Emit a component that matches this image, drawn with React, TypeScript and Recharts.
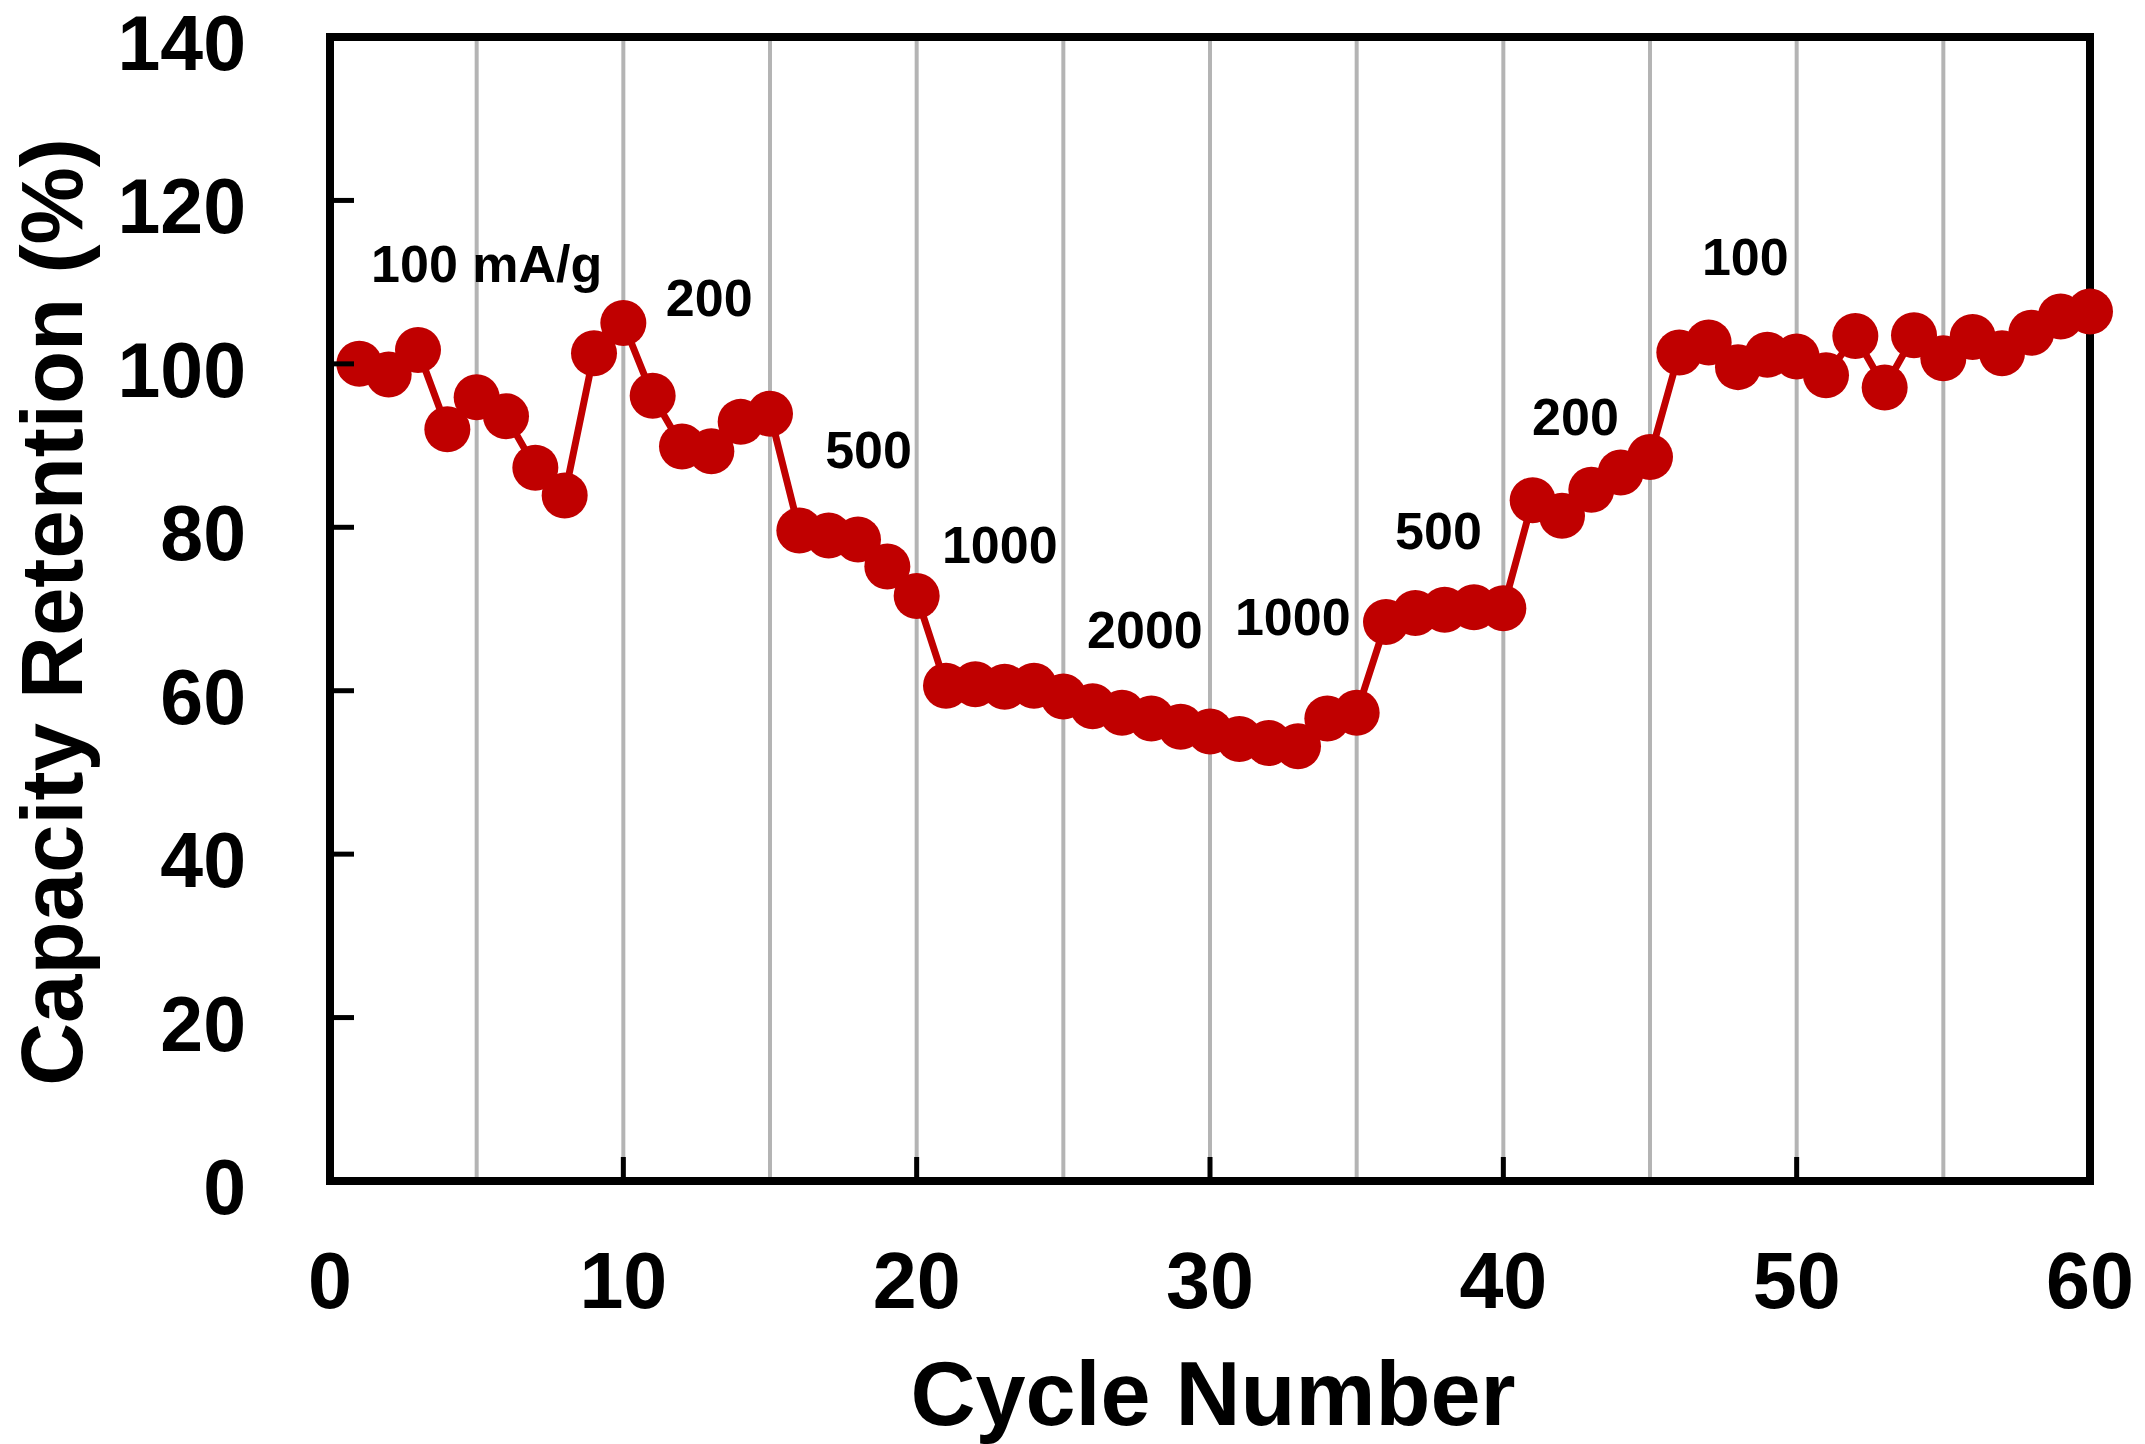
import { LineChart, Line, XAxis, YAxis, CartesianGrid, ReferenceDot } from "recharts"

// cycle number 1..60
const cycles = Array.from({ length: 60 }, (_, i) => i + 1)

// capacity retention (%)
const retention = [
	100.0, 98.7, 101.7, 92.0, 95.9, 93.6, 87.3, 83.9, 101.3, 105.0,
	96.1, 89.9, 89.3, 92.9, 93.9, 79.6, 79.0, 78.5, 75.2, 71.6,
	60.6, 60.8, 60.5, 60.6, 59.3, 58.1, 57.3, 56.6, 55.6, 55.0,
	54.1, 53.6, 53.2, 56.6, 57.3, 68.4, 69.5, 69.9, 70.2, 70.1,
	83.3, 81.4, 84.6, 86.7, 88.6, 101.4, 102.6, 99.6, 101.1, 100.9,
	98.6, 103.4, 97.1, 103.5, 100.7, 103.3, 101.3, 103.8, 105.8, 106.4,
]

const xTicks = [0, 5, 10, 15, 20, 25, 30, 35, 40, 45, 50, 55, 60]
const yTicks = [0, 20, 40, 60, 80, 100, 120, 140]

// current density labels, anchored in data units (cycle, retention)
const rateLabels = [
	{ text: "100 mA/g", cycle: 1.4, value: 110.0 },
	{ text: "200", cycle: 11.45, value: 105.9 },
	{ text: "500", cycle: 16.88, value: 87.3 },
	{ text: "1000", cycle: 20.86, value: 75.6 },
	{ text: "2000", cycle: 25.81, value: 65.2 },
	{ text: "1000", cycle: 30.85, value: 66.8 },
	{ text: "500", cycle: 36.31, value: 77.3 },
	{ text: "200", cycle: 40.98, value: 91.3 },
	{ text: "100", cycle: 46.77, value: 110.9 },
]

const data = cycles.map((c, i) => ({ cycle: c, retention: retention[i] }))

const FONT = "'Liberation Sans', Arial, sans-serif"
const RED = "#C00000"
const frame = { stroke: "#000", strokeWidth: 8, strokeLinecap: "square" }

function XTick({ x, y, payload }) {
	const v = payload.value
	if (v % 10 !== 0) return null
	return (
		<g>
			{v > 0 && v < 60 && <line x1={x} y1={y} x2={x} y2={y - 24} stroke="#000" strokeWidth={5} />}
			<text x={x} y={y + 127} textAnchor="middle" fontFamily={FONT} fontWeight="bold" fontSize={79} fill="#000">
				{v}
			</text>
		</g>
	)
}

function YTick({ x, y, payload }) {
	const v = payload.value
	return (
		<g>
			{v > 0 && v < 140 && <line x1={x} y1={y} x2={x + 24} y2={y} stroke="#000" strokeWidth={5} />}
			<text x={x - 84} y={y + 33} textAnchor="end" fontFamily={FONT} fontWeight="bold" fontSize={77} fill="#000">
				{v}
			</text>
		</g>
	)
}

export default function App() {
	return (
		<div>
			<style>{`body{margin:0}`}</style>
			<LineChart width={2145} height={1444} data={data} margin={{ top: 36, right: 54, left: 329, bottom: 262 }}>
				<CartesianGrid horizontal={false} stroke="#b4b4b4" strokeWidth={4} />
				<XAxis
					dataKey="cycle"
					type="number"
					domain={[0, 60]}
					ticks={xTicks}
					interval={0}
					height={1}
					tickSize={0}
					tickMargin={0}
					tickLine={false}
					tick={<XTick />}
					axisLine={frame}
				/>
				<XAxis
					xAxisId="top"
					orientation="top"
					type="number"
					domain={[0, 60]}
					height={1}
					tick={false}
					tickLine={false}
					axisLine={frame}
				/>
				<YAxis
					type="number"
					domain={[0, 140]}
					ticks={yTicks}
					interval={0}
					width={1}
					tickSize={0}
					tickMargin={0}
					tickLine={false}
					tick={<YTick />}
					axisLine={frame}
				/>
				<YAxis
					yAxisId="right"
					orientation="right"
					type="number"
					domain={[0, 140]}
					width={1}
					tick={false}
					tickLine={false}
					axisLine={frame}
				/>
				<Line
					dataKey="retention"
					stroke={RED}
					strokeWidth={7}
					dot={{ r: 23, fill: RED, stroke: "none" }}
					activeDot={false}
					isAnimationActive={false}
				/>
				{rateLabels.map((l, i) => (
					<ReferenceDot
						key={i}
						x={l.cycle}
						y={l.value}
						r={0}
						shape={(p) => (
							<text x={p.cx} y={p.cy} fontFamily={FONT} fontWeight="bold" fontSize={52} fill="#000">
								{l.text}
							</text>
						)}
					/>
				))}
				<text
					transform="translate(82,612) rotate(-90)"
					textAnchor="middle"
					fontFamily={FONT}
					fontWeight="bold"
					fontSize={87}
					fill="#000"
				>
					Capacity Retention (%)
				</text>
				<text x={1213} y={1425} textAnchor="middle" fontFamily={FONT} fontWeight="bold" fontSize={90} fill="#000">
					Cycle Number
				</text>
			</LineChart>
		</div>
	)
}
